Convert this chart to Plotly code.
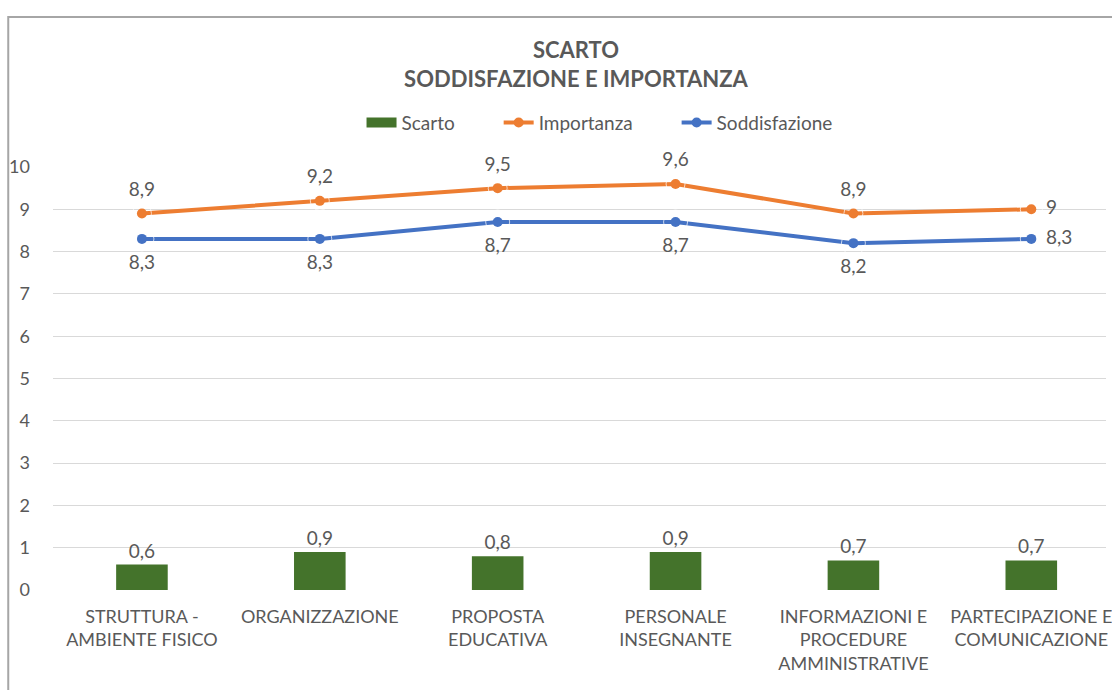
import plotly.graph_objects as go

categories = ["STRUTTURA -<br>AMBIENTE FISICO", "ORGANIZZAZIONE", "PROPOSTA<br>EDUCATIVA",
              "PERSONALE<br>INSEGNANTE", "INFORMAZIONI E<br>PROCEDURE<br>AMMINISTRATIVE",
              "PARTECIPAZIONE E<br>COMUNICAZIONE"]
scarto = [0.6, 0.9, 0.8, 0.9, 0.7, 0.7]
importanza = [8.9, 9.2, 9.5, 9.6, 8.9, 9.0]
soddisfazione = [8.3, 8.3, 8.7, 8.7, 8.2, 8.3]

FONT = "Lato"
GREY = "#595959"
GREEN = "#44732b"
PAD = "\u00a0" * 8
x = list(range(len(categories)))

fig = go.Figure()
fig.add_trace(go.Bar(
    x=x, y=scarto, name="Scarto", width=0.29, showlegend=False,
    marker=dict(color=GREEN, line=dict(width=0)),
    texttemplate="%{y}", textposition="outside",
    textfont=dict(family=FONT, size=19, color=GREY), cliponaxis=False,
))
# legend entry for the bars (wide swatch like the reference)
fig.add_trace(go.Scatter(
    x=[None], y=[None], name="Scarto" + PAD, mode="lines",
    line=dict(color=GREEN, width=12),
))
fig.add_trace(go.Scatter(
    x=x, y=importanza, name="Importanza" + PAD, mode="lines+markers",
    line=dict(color="#ED7D31", width=4), marker=dict(size=10, color="#ED7D31"),
))
fig.add_trace(go.Scatter(
    x=x, y=soddisfazione, name="Soddisfazione", mode="lines+markers",
    line=dict(color="#4472C4", width=4), marker=dict(size=10, color="#4472C4"),
))
# data labels (invisible markers push labels away from the points)
fig.add_trace(go.Scatter(
    x=x, y=importanza, mode="markers+text", showlegend=False, hoverinfo="skip",
    marker=dict(size=[19] * 5 + [22], color="rgba(0,0,0,0)"),
    texttemplate="%{y}", textposition=["top center"] * 5 + ["middle right"],
    textfont=dict(family=FONT, size=19, color=GREY), cliponaxis=False,
))
fig.add_trace(go.Scatter(
    x=x, y=soddisfazione, mode="markers+text", showlegend=False, hoverinfo="skip",
    marker=dict(size=[24] * 5 + [22], color="rgba(0,0,0,0)"),
    texttemplate="%{y}", textposition=["bottom center"] * 5 + ["middle right"],
    textfont=dict(family=FONT, size=19, color=GREY), cliponaxis=False,
))

fig.update_layout(
    width=1112, height=690,
    margin=dict(l=53, r=0, t=167, b=100),
    paper_bgcolor="white", plot_bgcolor="white",
    separators=",.",
    font=dict(family=FONT, color=GREY, size=18),
    title=dict(text="<b>SCARTO<br>SODDISFAZIONE E IMPORTANZA</b>", x=0.518, xanchor="center",
               y=0.916, yanchor="top", font=dict(family=FONT, size=22, color=GREY)),
    legend=dict(orientation="h", x=0.293, xanchor="left", y=1.105, yanchor="middle",
                font=dict(family=FONT, size=19, color=GREY),
                traceorder="normal"),
    showlegend=True,
    xaxis=dict(range=[-0.5, 5.42], tickmode="array", tickvals=x, ticktext=categories,
               showgrid=False, zeroline=False, showline=False, ticks="",
               ticklabeloverflow="allow",
               tickfont=dict(family=FONT, size=18, color=GREY), ticklabelstandoff=14),
    yaxis=dict(range=[0, 10], dtick=1, showgrid=True, gridcolor="#d9d9d9", gridwidth=1,
               zeroline=False, showline=False, ticks="",
               tickfont=dict(family=FONT, size=18, color=GREY), ticklabelstandoff=22),
    shapes=[dict(type="rect", xref="paper", yref="paper", x0=-0.0425, x1=1.2,
                 y0=-0.5, y1=1.3546, line=dict(color="#a6a6a6", width=2), layer="below")],
)

fig.write_html("out.html", config={"displayModeBar": False},
               post_script="document.body.style.margin='0';document.body.style.overflow='hidden';")
